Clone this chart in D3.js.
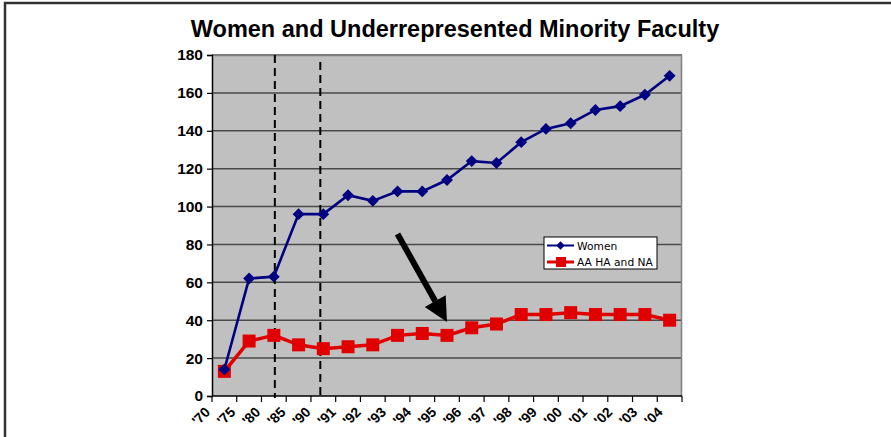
<!DOCTYPE html>
<html>
<head>
<meta charset="utf-8">
<script src="https://cdn.jsdelivr.net/npm/d3@7"></script>
<style>
  body { margin: 0; background: #fff; }
  svg { display: block; }
</style>
</head>
<body>
<svg width="891" height="437"></svg>
<script>
var width = 891;
var height = 437;

var years = ["'70", "'75", "'80", "'85", "'90", "'91", "'92", "'93", "'94", "'95",
             "'96", "'97", "'98", "'99", "'00", "'01", "'02", "'03", "'04"];
var women = [14, 62, 63, 96, 96, 106, 103, 108, 108, 114, 124, 123, 134, 141, 144, 151, 153, 159, 169];
var minority = [13, 29, 32, 27, 25, 26, 27, 32, 33, 32, 36, 38, 43, 43, 44, 43, 43, 43, 40];
var yTicks = [0, 20, 40, 60, 80, 100, 120, 140, 160, 180];
var seriesNames = ["Women", "AA HA and NA"];

var margin = {top: 55, right: 209, bottom: 41, left: 212}; // plot area 212..682 x 55..396
var w = width - margin.left - margin.right;
var h = height - margin.top - margin.bottom;

var svg = d3.select('svg');

// outer frame of the slide
svg.append('rect')
  .attr('x', 5).attr('y', 3)
  .attr('width', 950).attr('height', 500)
  .attr('fill', 'none')
  .attr('stroke', '#333')
  .attr('stroke-width', 2.5);

svg.append('text')
  .attr('x', 455).attr('y', 37)
  .attr('text-anchor', 'middle')
  .style('font-family', '"Liberation Sans", Arial, sans-serif')
  .style('font-weight', 'bold')
  .style('font-size', '23.5px')
  .text('Women and Underrepresented Minority Faculty');

var g = svg.append('g').attr('transform', 'translate(' + margin.left + ',' + margin.top + ')');

var x = d3.scaleBand().domain(years).range([0, w]);
var y = d3.scaleLinear().domain([0, 180]).range([h, 0]);
var cx = function(d, i) { return x(years[i]) + x.bandwidth() / 2; };

// plot background
g.append('rect')
  .attr('width', w).attr('height', h)
  .attr('fill', '#c0c0c0');

// gridlines
g.selectAll('.grid')
  .data(yTicks.slice(1))
  .enter().append('line')
  .attr('x1', 0).attr('x2', w)
  .attr('y1', function(d) { return y(d); })
  .attr('y2', function(d) { return y(d); })
  .attr('stroke', '#4a4a4a')
  .attr('stroke-width', 1.5);

// top + right border of plot
g.append('path')
  .attr('d', 'M0,0.5H' + (w - 0.5) + 'V' + h)
  .attr('fill', 'none')
  .attr('stroke', '#808080')
  .attr('stroke-width', 1.5);

// dashed markers at '80 and '90
var dashAt = [{k: "'80", dx: 1, top: 0}, {k: "'90", dx: -3, top: 7}];
g.selectAll('.dash')
  .data(dashAt)
  .enter().append('line')
  .attr('x1', function(d) { return x(d.k) + x.bandwidth() / 2 + d.dx; })
  .attr('x2', function(d) { return x(d.k) + x.bandwidth() / 2 + d.dx; })
  .attr('y1', function(d) { return d.top; })
  .attr('y2', h + 2)
  .attr('stroke', '#000')
  .attr('stroke-width', 2)
  .attr('stroke-dasharray', '8,5');

// y axis
var yAxis = g.append('g')
  .call(d3.axisLeft(y).tickValues(yTicks).tickSize(5).tickPadding(4));
yAxis.attr('font-size', null);
yAxis.select('.domain').attr('stroke', '#000').attr('stroke-width', 1.5);
yAxis.selectAll('.tick line').attr('stroke', '#000').attr('stroke-width', 1.2);
yAxis.selectAll('text')
  .style('font-family', '"Liberation Sans", Arial, sans-serif')
  .style('font-weight', 'bold')
  .style('font-size', '15.5px')
  .attr('fill', '#000');

// x axis: ticks at band boundaries
var xa = g.append('g').attr('transform', 'translate(0,' + h + ')');
xa.append('line').attr('x1', 0).attr('x2', w).attr('stroke', '#000').attr('stroke-width', 1.5);
var bounds = years.map(function(k) { return x(k); }).concat([w]);
xa.selectAll('.xt')
  .data(bounds)
  .enter().append('line')
  .attr('x1', function(d) { return d; }).attr('x2', function(d) { return d; })
  .attr('y1', 0).attr('y2', 6)
  .attr('stroke', '#000').attr('stroke-width', 1.2);
xa.selectAll('.xl')
  .data(years)
  .enter().append('text')
  .attr('transform', function(d, i) { return 'translate(' + (x(d) - 1 + i * 0.4) + ',17) rotate(-45)'; })
  .attr('text-anchor', 'end')
  .style('font-family', '"Liberation Sans", Arial, sans-serif')
  .style('font-weight', 'bold')
  .style('font-size', '14px')
  .text(function(d) { return d; });

// lines
var line = d3.line().x(cx).y(function(d) { return y(d); });

g.append('path').datum(minority)
  .attr('d', line).attr('fill', 'none')
  .attr('stroke', '#e00000').attr('stroke-width', 3.5);
g.append('path').datum(women)
  .attr('d', line).attr('fill', 'none')
  .attr('stroke', '#000080').attr('stroke-width', 2.6);

g.selectAll('.sq')
  .data(minority)
  .enter().append('rect')
  .attr('x', function(d, i) { return cx(d, i) - 6.5; })
  .attr('y', function(d) { return y(d) - 6.5; })
  .attr('width', 13).attr('height', 13)
  .attr('fill', '#e00000');

var diamond = d3.symbol().type(d3.symbolDiamond2).size(90);
g.selectAll('.dm')
  .data(women)
  .enter().append('path')
  .attr('d', diamond)
  .attr('transform', function(d, i) { return 'translate(' + cx(d, i) + ',' + y(d) + ')'; })
  .attr('fill', '#000080');

// arrow from '93 down to the '95 minority point
var ax1 = x("'93") + x.bandwidth() / 2, ay1 = y(85.5);
var ax2 = x("'95") + x.bandwidth() / 2, ay2 = y(39);
var ang = Math.atan2(ay2 - ay1, ax2 - ax1);
var headL = 24, headW = 12;
var bx = ax2 - headL * Math.cos(ang), by = ay2 - headL * Math.sin(ang);
g.append('line')
  .attr('x1', ax1).attr('y1', ay1)
  .attr('x2', bx).attr('y2', by)
  .attr('stroke', '#000').attr('stroke-width', 6);
g.append('path')
  .attr('d', 'M' + ax2 + ',' + ay2 +
    'L' + (bx + headW * Math.sin(ang)) + ',' + (by - headW * Math.cos(ang)) +
    'L' + (bx - headW * Math.sin(ang)) + ',' + (by + headW * Math.cos(ang)) + 'Z')
  .attr('fill', '#000');

// legend
var lg = svg.append('g').attr('transform', 'translate(544,237)');
lg.append('rect')
  .attr('width', 113).attr('height', 32)
  .attr('fill', '#fff').attr('stroke', '#000').attr('stroke-width', 1);
var legendItems = [
  {name: seriesNames[0], color: '#000080', sw: 2, y: 8.5},
  {name: seriesNames[1], color: '#e00000', sw: 3, y: 25}
];
legendItems.forEach(function(it, i) {
  lg.append('line')
    .attr('x1', 3).attr('x2', 30).attr('y1', it.y).attr('y2', it.y)
    .attr('stroke', it.color).attr('stroke-width', it.sw);
  if (i === 0) {
    lg.append('path').attr('d', d3.symbol().type(d3.symbolDiamond2).size(45))
      .attr('transform', 'translate(16.5,' + it.y + ')')
      .attr('fill', it.color);
  } else {
    lg.append('rect').attr('x', 12).attr('y', it.y - 5).attr('width', 10).attr('height', 10)
      .attr('fill', it.color);
  }
  lg.append('text')
    .attr('x', 33).attr('y', it.y + 4)
    .style('font-family', '"DejaVu Sans", Verdana, sans-serif')
    .style('font-size', '10.7px')
    .text(it.name);
});
</script>
</body>
</html>
